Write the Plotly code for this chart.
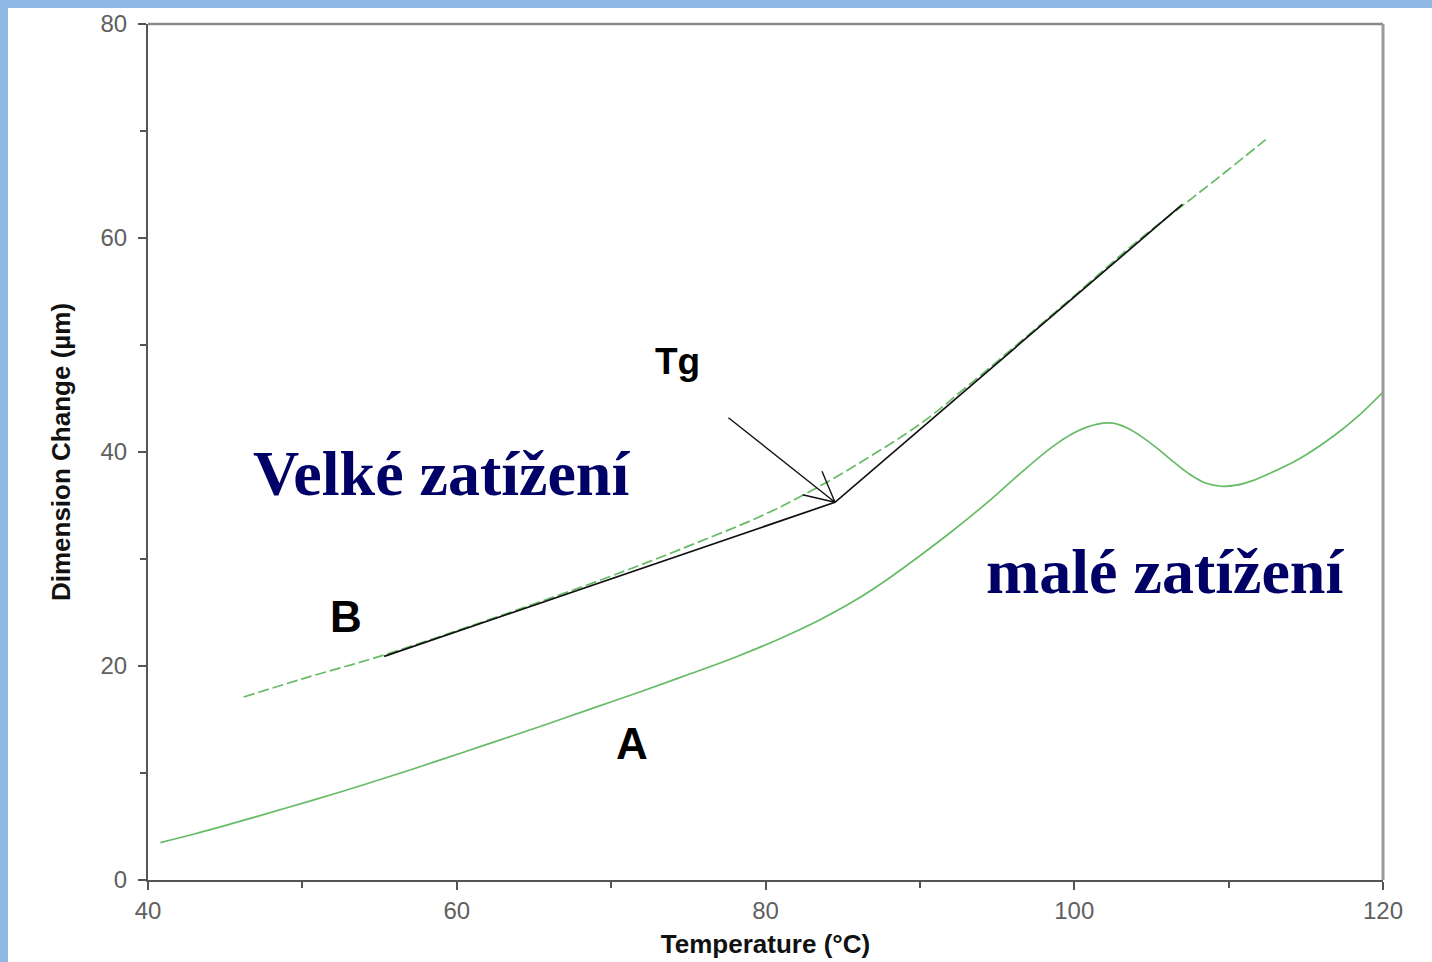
import plotly.graph_objects as go

# Curve A (small load), solid green
temp_a = [40.8, 43, 46, 49, 52.4, 55.5, 58.9, 62, 65.4, 68.5, 71.9, 75, 78, 81, 83.5,
          86, 88, 90, 92, 94.3, 96.5, 98.6, 100, 101.5, 102.5, 103.5, 104.5, 105.5, 106.5,
          107.5, 108.5, 109.5, 110.5, 111.5, 112.5, 114.5, 116.8, 118.5, 120]
dim_a = [3.5, 4.3, 5.5, 6.75, 8.2, 9.6, 11.2, 12.7, 14.35, 15.9, 17.6, 19.2, 20.8, 22.6, 24.3,
         26.3, 28.2, 30.3, 32.5, 35.2, 38.0, 40.5, 41.8, 42.6, 42.7, 42.2, 41.3, 40.2, 39.0,
         37.9, 37.1, 36.8, 36.9, 37.3, 37.9, 39.3, 41.5, 43.5, 45.6]

# Curve B (large load), dashed green
temp_b = [46.2, 50, 55, 60, 65, 70, 75, 80, 83.5, 86, 90, 93.2, 97, 100, 104, 107.7, 110, 112.4]
dim_b = [17.1, 18.8, 20.9, 23.3, 25.8, 28.4, 31.2, 34.2, 36.8, 38.9, 42.6, 46.3, 50.9,
         54.6, 59.6, 63.8, 66.4, 69.2]

# Tangent lines (black)
tan_temp = [55.3, 84.5, 107.0]
tan_dim = [20.9, 35.3, 63.15]

# Arrow pointing to Tg
arrow_temp = [77.6, 84.5, 83.66, 84.5, 82.4]
arrow_dim = [43.2, 35.3, 38.2, 35.3, 36.0]

x_ticks = [40, 60, 80, 100, 120]
y_ticks = [0, 20, 40, 60, 80]

labels = [
    ("Velké zatížení", 59.0, 38.0, "serif_big"),
    ("malé zatížení", 105.9, 28.85, "serif_big"),
    ("Tg", 74.3, 48.5, "tg"),
    ("B", 52.8, 24.6, "ab"),
    ("A", 71.35, 12.8, "ab"),
]

green = "#66bb66"
fig = go.Figure()
fig.add_trace(go.Scatter(x=temp_a, y=dim_a, mode="lines", line=dict(color=green, width=1.7, shape="spline", smoothing=1.0),
                         showlegend=False, hoverinfo="skip"))
fig.add_trace(go.Scatter(x=temp_b, y=dim_b, mode="lines",
                         line=dict(color=green, width=1.7, shape="spline", dash="11px,4px"),
                         showlegend=False, hoverinfo="skip"))
fig.add_trace(go.Scatter(x=tan_temp, y=tan_dim, mode="lines", line=dict(color="#111111", width=1.7),
                         showlegend=False, hoverinfo="skip"))
fig.add_trace(go.Scatter(x=arrow_temp, y=arrow_dim, mode="lines", line=dict(color="#111111", width=1.4),
                         showlegend=False, hoverinfo="skip"))

styles = {
    "serif_big": dict(family="Liberation Serif, Times New Roman, serif", size=64, color="#000066", weight="bold"),
    "tg": dict(family="Liberation Sans, Arial, sans-serif", size=37, color="#000000", weight="bold"),
    "ab": dict(family="Liberation Sans, Arial, sans-serif", size=44, color="#000000", weight="bold"),
}
for text, x, y, st in labels:
    fig.add_annotation(x=x, y=y, text=text, showarrow=False, xanchor="center", yanchor="middle",
                       font=styles[st])

# Blue slide-border stripes and grey frame (top/right)
shapes = [
    dict(type="rect", xref="paper", yref="paper", xsizemode="pixel", ysizemode="scaled",
         xanchor=0, x0=-150, x1=-140, y0=-0.2, y1=1.2, fillcolor="#8fb8e5", line=dict(width=0), layer="below"),
    dict(type="rect", xref="paper", yref="paper", xsizemode="scaled", ysizemode="pixel",
         yanchor=1, x0=-0.2, x1=1.2, y0=16, y1=26, fillcolor="#8fb8e5", line=dict(width=0), layer="below"),
    dict(type="line", xref="paper", yref="paper", x0=0, x1=1, y0=1, y1=1, line=dict(color="#8a8a8a", width=2.5)),
    dict(type="line", xref="paper", yref="paper", x0=1, x1=1, y0=0, y1=1, line=dict(color="#9a9a9a", width=3)),
]

tick_font = dict(family="Liberation Sans, Arial, sans-serif", size=24, color="#606060")
title_font = dict(family="Liberation Sans, Arial, sans-serif", size=26, color="#111111", weight="bold")

fig.update_layout(
    width=1432, height=962,
    margin=dict(l=148, r=49, t=24, b=82),
    paper_bgcolor="white", plot_bgcolor="white",
    shapes=shapes,
    xaxis=dict(range=[40, 120], tickvals=x_ticks, ticks="outside", ticklen=8, tickwidth=1.5,
               tickcolor="#555555", showline=True, linecolor="#555555", linewidth=2,
               showgrid=False, zeroline=False, tickfont=tick_font, ticklabelstandoff=0, automargin=False,
               minor=dict(dtick=10, ticks="outside", ticklen=6, tickwidth=1.5, tickcolor="#555555", showgrid=False),
               title=dict(text="Temperature (°C)", font=title_font, standoff=12)),
    yaxis=dict(range=[0, 80], tickvals=y_ticks, ticks="outside", ticklen=8, tickwidth=1.5,
               tickcolor="#555555", showline=True, linecolor="#555555", linewidth=2,
               showgrid=False, zeroline=False, tickfont=tick_font, ticklabelstandoff=6, automargin=False,
               minor=dict(dtick=10, ticks="outside", ticklen=6, tickwidth=1.5, tickcolor="#555555", showgrid=False),
               title=dict(text="Dimension Change (µm)", font=title_font, standoff=22)),
)

fig.write_html("out.html", config={"displayModeBar": False},
               post_script="document.body.style.margin='0';document.body.style.overflow='hidden';")
